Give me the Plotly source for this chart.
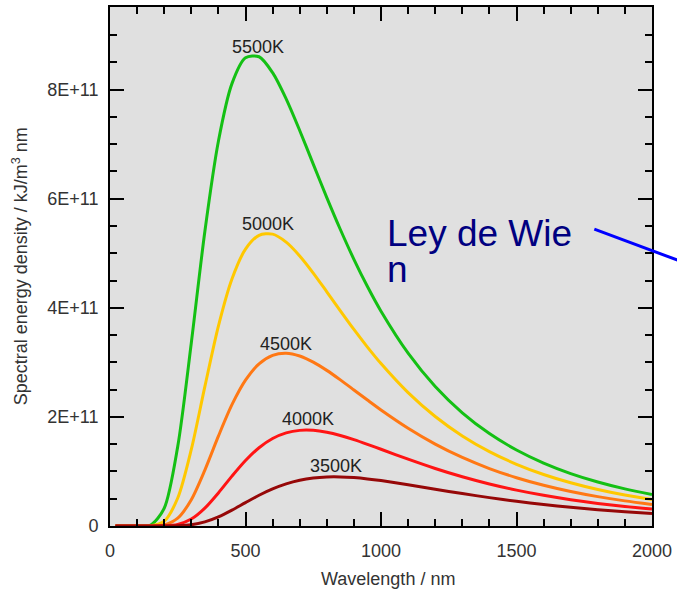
import plotly.graph_objects as go

# Wavelength samples (nm)
wavelength = [20, 50, 100, 150, 200, 250, 300, 350, 400, 450, 500, 550, 600, 650, 700,
              750, 800, 850, 900, 950, 1000, 1100, 1200, 1300, 1400, 1500, 1600, 1700,
              1800, 1900, 2000]

# Spectral energy density values (units of 1E+11)
t5500 = [0, 0, 0.00002, 0.0175, 0.3256, 1.460, 3.356, 5.400, 7.055, 8.111, 8.584, 8.604,
         8.312, 7.831, 7.252, 6.635, 6.021, 5.436, 4.890, 4.390, 3.938, 3.169, 2.558,
         2.0755, 1.6947, 1.3933, 1.1534, 0.9613, 0.8065, 0.6809, 0.5783]
t5000 = [0, 0, 0, 0.00307, 0.0880, 0.5127, 1.403, 2.556, 3.666, 4.529, 5.076, 5.330,
         5.351, 5.205, 4.952, 4.638, 4.294, 3.945, 3.604, 3.280, 2.978, 2.445, 2.007,
         1.651, 1.3636, 1.1319, 0.9449, 0.7932, 0.6697, 0.5686, 0.4853]
t4500 = [0, 0, 0, 0.00036, 0.0178, 0.1427, 0.4832, 1.0253, 1.6476, 2.2238, 2.6742, 2.9733,
         3.130, 3.168, 3.1175, 3.0052, 2.8534, 2.679, 2.4945, 2.309, 2.128, 1.7928, 1.5024,
         1.2571, 1.0535, 0.8854, 0.7469, 0.6327, 0.5385, 0.4604, 0.3954]
t4000 = [0, 0, 0, 0.00003, 0.00241, 0.02885, 0.12756, 0.3273, 0.6065, 0.9144, 1.2012,
         1.4353, 1.6039, 1.7073, 1.7533, 1.7534, 1.7185, 1.6591, 1.5834, 1.4977, 1.4072,
         1.2251, 1.0544, 0.9021, 0.7701, 0.6576, 0.5623, 0.4820, 0.4145, 0.3576, 0.3096]
t3500 = [0, 0, 0, 0, 0.00019, 0.00369, 0.0230, 0.07539, 0.16786, 0.29187, 0.4296, 0.5634,
         0.6801, 0.7726, 0.8389, 0.8801, 0.8993, 0.9003, 0.8873, 0.8635, 0.8323, 0.7568,
         0.6747, 0.5945, 0.5203, 0.4536, 0.3950, 0.3440, 0.2999, 0.2618, 0.2292]

series_names = ["5500K", "5000K", "4500K", "4000K", "3500K"]
series_values = [t5500, t5000, t4500, t4000, t3500]
series_colors = ["#14c014", "#ffc800", "#ff7814", "#ff1414", "#960808"]

# Curve label positions (nm, value in 1E+11)
label_x = [547, 583, 650, 730, 833]
label_y = [8.785, 5.534, 3.342, 1.954, 1.096]

ytick_vals = [0, 2, 4, 6, 8]
ytick_text = ["0", "2E+11", "4E+11", "6E+11", "8E+11"]
xtick_vals = [0, 500, 1000, 1500, 2000]
xtick_text = ["0", "500", "1000", "1500", "2000"]

SCALE = 1e11
FONT = "Liberation Sans, Arial, sans-serif"
FS = 18

fig = go.Figure()
for name, vals, col in zip(series_names, series_values, series_colors):
    fig.add_trace(go.Scatter(
        x=wavelength, y=[v * SCALE for v in vals], mode="lines", name=name,
        line=dict(color=col, width=3, shape="spline", smoothing=0.8),
        showlegend=False, hoverinfo="skip"))

for name, lx, ly in zip(series_names, label_x, label_y):
    fig.add_annotation(x=lx, y=ly * SCALE, text=name, showarrow=False,
                       xanchor="center", yanchor="middle",
                       font=dict(family=FONT, size=FS, color="#222222"))

axis_common = dict(showline=True, mirror="ticks", linecolor="black", linewidth=2,
                   ticks="inside", tickcolor="black", tickwidth=2, ticklen=14,
                   showgrid=False, zeroline=False,
                   tickfont=dict(family=FONT, size=FS, color="#333333"))

fig.update_xaxes(range=[0, 2000], tickvals=xtick_vals, ticktext=xtick_text,
                 minor=dict(dtick=100, ticks="inside", ticklen=7, tickcolor="black",
                            tickwidth=2, showgrid=False),
                 ticklabelstandoff=7, **axis_common)
fig.update_yaxes(range=[0, 9.516e11], tickvals=[v * SCALE for v in ytick_vals],
                 ticktext=ytick_text,
                 minor=dict(dtick=0.5e11, ticks="inside", ticklen=7, tickcolor="black",
                            tickwidth=2, showgrid=False),
                 ticklabelstandoff=6, **axis_common)

# Axis titles
fig.add_annotation(xref="paper", yref="paper", x=0.5136, y=-0.1017,
                   text="Wavelength / nm", showarrow=False,
                   xanchor="center", yanchor="middle",
                   font=dict(family=FONT, size=FS, color="#333333"))
fig.add_annotation(xref="paper", yref="paper", x=-0.165, y=0.4995,
                   text="Spectral energy density / kJ/m<sup>3</sup> nm", showarrow=False,
                   textangle=-90, xanchor="center", yanchor="middle",
                   font=dict(family=FONT, size=FS, color="#333333"))

# "Ley de Wien" label and pointer line
fig.add_annotation(xref="paper", yref="paper", x=0.508, y=0.5635, text="Ley de Wie",
                   showarrow=False, xanchor="left", yanchor="middle",
                   font=dict(family=FONT, size=37, color="#000080"))
fig.add_annotation(xref="paper", yref="paper", x=0.508, y=0.494, text="n",
                   showarrow=False, xanchor="left", yanchor="middle",
                   font=dict(family=FONT, size=37, color="#000080"))
fig.add_shape(type="line", xref="paper", yref="paper",
              x0=0.8936, y0=0.572, x1=1.08, y1=0.4995,
              line=dict(color="#0000ff", width=3))

fig.update_layout(
    width=677, height=589,
    margin=dict(l=110, r=22, t=5, b=63),
    paper_bgcolor="white", plot_bgcolor="#e0e0e0",
    font=dict(family=FONT),
)

fig.write_html("out.html", config={"displayModeBar": False},
               post_script="document.body.style.margin='0';document.body.style.padding='0';")
